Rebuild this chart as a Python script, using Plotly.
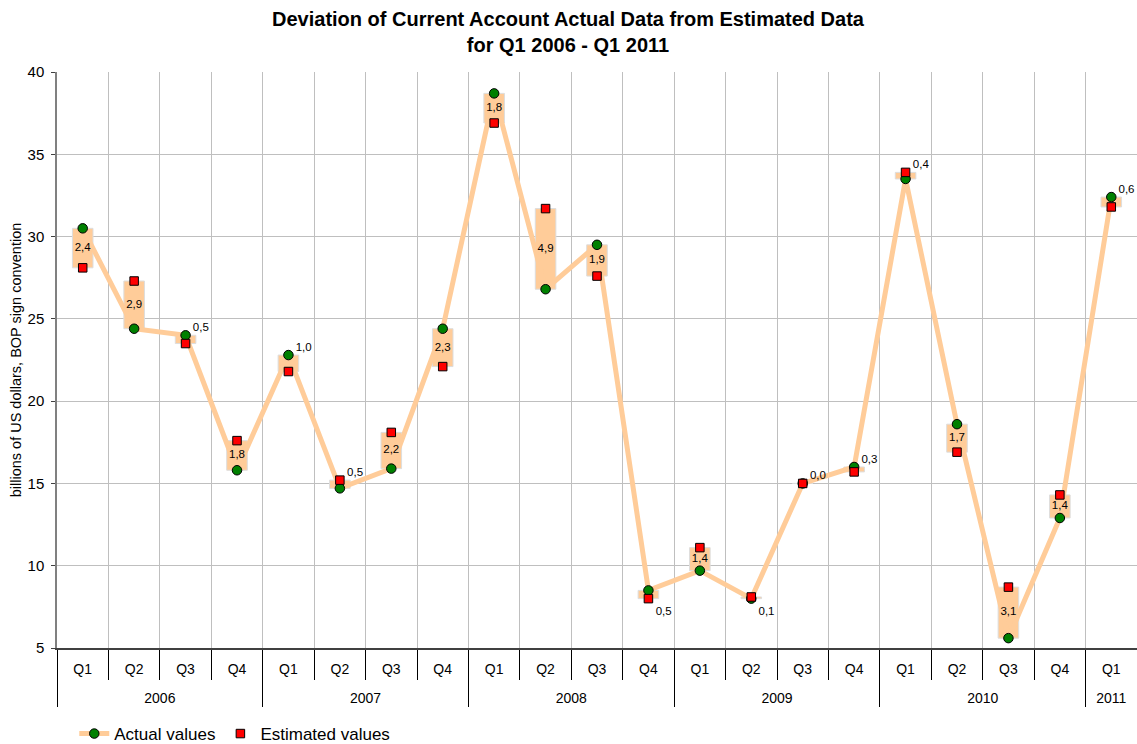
import plotly.graph_objects as go

years = ["2006"] * 4 + ["2007"] * 4 + ["2008"] * 4 + ["2009"] * 4 + ["2010"] * 4 + ["2011"]
quarters = ["Q1", "Q2", "Q3", "Q4"] * 5 + ["Q1"]

actual = [30.5, 24.4, 24.0, 15.8, 22.8, 14.7, 15.9, 24.4, 38.7, 26.8, 29.5,
          8.5, 9.7, 8.0, 15.0, 16.0, 33.5, 18.6, 5.6, 12.9, 32.4]
estimated = [28.1, 27.3, 23.5, 17.6, 21.8, 15.2, 18.1, 22.1, 36.9, 31.7, 27.6,
             8.0, 11.1, 8.1, 15.0, 15.7, 33.9, 16.9, 8.7, 14.3, 31.8]
deviation_labels = ["2,4", "2,9", "0,5", "1,8", "1,0", "0,5", "2,2", "2,3", "1,8", "4,9", "1,9",
                    "0,5", "1,4", "0,1", "0,0", "0,3", "0,4", "1,7", "3,1", "1,4", "0,6"]

# where each deviation label sits: inside the box, above right or below right
label_place = ["in", "in", "top", "in", "top", "top", "in", "in", "in", "in", "in",
               "bottom", "in", "bottom", "top", "top", "top", "in", "in", "in", "top"]

FONT = "Arial, Liberation Sans, sans-serif"
W, H = 1137, 744
# the leading line break drops the year row below the quarter row
x = [["<br>" + y for y in years], quarters]

lo = [min(a, e) for a, e in zip(actual, estimated)]
hi = [max(a, e) for a, e in zip(actual, estimated)]

label_y, label_pos = [], []
for l, h, p in zip(lo, hi, label_place):
    if p == "in":
        label_y.append((l + h) / 2)
        label_pos.append("middle center")
    elif p == "top":
        label_y.append(h + 0.42)  # a few px above the box
        label_pos.append("middle right")
    else:
        label_y.append(l)
        label_pos.append("bottom right")

fig = go.Figure()

# deviation boxes
fig.add_trace(go.Bar(x=x, y=[h - l for l, h in zip(lo, hi)], base=lo, width=0.4,
                     marker=dict(color="#FFCC99", line=dict(color="#DDDDDD", width=1)),
                     showlegend=False, hoverinfo="skip"))

fig.add_trace(go.Scatter(x=x, y=actual, mode="lines+markers", name="Actual values",
                         line=dict(color="#FFCC99", width=5),
                         marker=dict(symbol="circle", size=9.5, color="#008000",
                                     line=dict(color="black", width=1))))

fig.add_trace(go.Scatter(x=x, y=estimated, mode="markers", name="Estimated values",
                         marker=dict(symbol="square", size=8.5, color="#FF0000",
                                     line=dict(color="black", width=1))))

fig.add_trace(go.Scatter(x=x, y=label_y, mode="markers+text", text=deviation_labels,
                         textposition=label_pos, textfont=dict(size=11.5, color="black"),
                         marker=dict(size=10, opacity=0), cliponaxis=False,
                         showlegend=False, hoverinfo="skip"))

fig.update_layout(
    width=W, height=H,
    paper_bgcolor="white", plot_bgcolor="white",
    font=dict(family=FONT, size=14, color="black"),
    margin=dict(l=57, r=0, t=72, b=96),
    title=dict(text="<b>Deviation of Current Account Actual Data from Estimated Data<br>for Q1 2006 - Q1 2011</b>",
               x=568 / W, xref="container", xanchor="center",
               y=1 - 25.5 / H, yref="container", yanchor="middle", font=dict(size=20)),
    legend=dict(orientation="h", x=0.016, xanchor="left",
                y=1 - 734 / H, yref="container", yanchor="middle",
                font=dict(size=17)),
    showlegend=True,
)

fig.update_xaxes(type="multicategory", range=[-0.5, 20.5], automargin=False,
                 showgrid=True, gridcolor="#BFBFBF",
                 tickson="boundaries", ticks="outside", ticklen=30, tickcolor="black",
                 ticklabelstandoff=7,
                 showline=True, linecolor="#404040", linewidth=1.5,
                 showdividers=True, dividercolor="black", dividerwidth=1,
                 tickfont=dict(size=14))
fig.update_yaxes(range=[5, 40], dtick=5, automargin=False,
                 showgrid=True, gridcolor="#BFBFBF",
                 ticks="outside", ticklen=4, tickcolor="#404040", ticklabelstandoff=4,
                 tickfont=dict(size=15),
                 showline=True, linecolor="#808080", linewidth=1.5, zeroline=False,
                 title=dict(text="billions of US dollars, BOP sign convention",
                            font=dict(size=14.5), standoff=2))

# drop the default page margin so the figure fills the window exactly
fig.write_html("out.html", config={"displayModeBar": False},
               post_script="document.body.style.margin='0';document.body.style.overflow='hidden';")
